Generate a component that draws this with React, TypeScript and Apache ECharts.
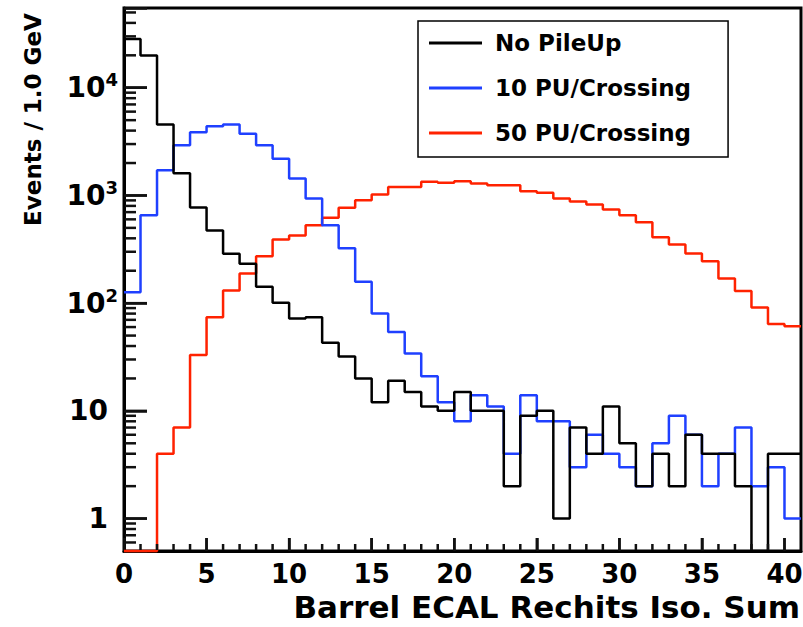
import React, { useEffect, useRef } from "react";
import * as echarts from "echarts";

// Bin lower edges 0..40 (1 GeV bins), upper edge of the last bin
const BIN_START = [0,1,2,3,4,5,6,7,8,9,10,11,12,13,14,15,16,17,18,19,20,21,22,23,24,25,26,27,28,29,30,31,32,33,34,35,36,37,38,39,40];
const LAST_EDGE = 41;

const NO_PILEUP = [28400,19900,4550,1610,772,472,287,232,142,101,72,74,43,32,20,12,19,15,11,10,15,10,10,2,9,10,1,7,4,11,5,2,4,2,6,4,4,2,0,4,4];
const PU10 = [126,655,1710,2920,3860,4390,4550,3730,2920,2190,1440,936,530,324,158,80,54,34,21,12,8,14,11,4,14,8,8,3,6,4,3,2,5,9,6,2,4,7,2,3,1];
const PU50 = [0,0,4,7,33,74,131,189,273,390,425,530,620,770,903,1020,1200,1200,1340,1310,1355,1290,1245,1245,1094,1057,938,878,824,740,655,564,409,351,289,245,169,130,91,64,61];

const SERIES_NAMES = ["No PileUp", "10 PU/Crossing", "50 PU/Crossing"];
const X_TITLE = "Barrel ECAL Rechits Iso. Sum";
const Y_TITLE = "Events / 1.0 GeV";

const X_MIN = 0;
const X_MAX = 41;
const X_INTERVAL = 5;
const Y_MIN = 0.5;
const Y_MAX = 55000;

const X_MAJOR_TICKS = [5,10,15,20,25,30,35,40];
const X_MINOR_TICKS = [1,2,3,4,6,7,8,9,11,12,13,14,16,17,18,19,21,22,23,24,26,27,28,29,31,32,33,34,36,37,38,39];
const Y_MAJOR_TICKS = [1,10,100,1000,10000];
const Y_MINOR_TICKS = [0.6,0.7,0.8,0.9,2,3,4,5,6,7,8,9,20,30,40,50,60,70,80,90,200,300,400,500,600,700,800,900,2000,3000,4000,5000,6000,7000,8000,9000,20000,30000,40000,50000];

const FONT = "DejaVu Sans";

function stepData(values: number[]) {
  const pts: number[][] = BIN_START.map((x, i) => [x, values[i] > 0 ? values[i] : Y_MIN]);
  const lastV = values[values.length - 1];
  pts.push([LAST_EDGE, lastV > 0 ? lastV : Y_MIN]);
  return pts;
}

function lineSeries(name: string, color: string, values: number[], z: number) {
  return {
    name,
    type: "line",
    step: "end",
    symbol: "none",
    showSymbol: false,
    clip: false,
    color,
    lineStyle: { color, width: 2.5 },
    data: stepData(values),
    z,
  };
}

export default function App() {
  const ref = useRef<HTMLDivElement>(null);
  useEffect(() => {
    if (!ref.current) return;
    const chart = echarts.init(ref.current, null, { renderer: "svg" });
    const option: any = {
      animation: false,
      backgroundColor: "#fff",
      title: {
        text: X_TITLE,
        right: 3,
        top: 590,
        padding: 0,
        textStyle: {
          fontFamily: FONT,
          fontWeight: "bold",
          fontSize: 31,
          color: "#000",
          lineHeight: 34,
        },
      },
      grid: {
        left: 124,
        top: 8,
        right: 2,
        bottom: 76,
        show: true,
        borderColor: "#000",
        borderWidth: 3,
        backgroundColor: "transparent",
        outerBoundsMode: "none",
      },
      xAxis: {
        type: "value",
        min: X_MIN,
        max: X_MAX,
        interval: X_INTERVAL,
        axisLine: { show: true, onZero: false, lineStyle: { color: "#000", width: 3 } },
        axisTick: { show: true, inside: true, length: 13, lineStyle: { color: "#111", width: 2.5 } },
        splitLine: { show: false },
        axisLabel: {
          show: true,
          interval: 0,
          showMaxLabel: false,
          margin: 10,
          color: "#000",
          fontFamily: FONT,
          fontWeight: "bold",
          fontSize: 26,
        },
      },
      yAxis: {
        type: "log",
        logBase: 10,
        min: Y_MIN,
        max: Y_MAX,
        name: Y_TITLE,
        nameLocation: "middle",
        nameGap: 78,
        nameTextStyle: {
          fontFamily: FONT,
          fontWeight: "bold",
          fontSize: 23,
          color: "#000",
          lineHeight: 26,
          padding: [0, 0, 0, 320],
        },
        axisLine: { show: true, onZero: false, lineStyle: { color: "#000", width: 3 } },
        axisTick: { show: true, inside: true, length: 23, lineStyle: { color: "#111", width: 2.5 } },
        splitLine: { show: false },
        axisLabel: {
          show: true,
          margin: 6,
          color: "#000",
          formatter: (v: number) => {
            const l = Math.log10(v);
            const e = Math.round(l);
            if (Math.abs(l - e) > 1e-6 || e < 0) return "";
            if (e === 0) return "{p|1}";
            if (e === 1) return "{p|10}";
            return "{b|10}{s|" + e + "}";
          },
          rich: {
            p: { fontFamily: FONT, fontWeight: "bold", fontSize: 28, color: "#000", padding: [0, 10, 0, 0], lineHeight: 34 },
            b: { fontFamily: FONT, fontWeight: "bold", fontSize: 28, color: "#000", lineHeight: 34 },
            s: { fontFamily: FONT, fontWeight: "bold", fontSize: 18, color: "#000", lineHeight: 22, verticalAlign: "top" },
          },
        },
      },
      legend: {
        show: true,
        orient: "vertical",
        left: 418,
        top: 21,
        data: SERIES_NAMES,
        icon: "rect",
        itemWidth: 53,
        itemHeight: 3,
        itemGap: 17,
        padding: [8, 37, 10, 11],
        backgroundColor: "#fff",
        borderColor: "#000",
        borderWidth: 1.5,
        selectedMode: false,
        textStyle: {
          fontFamily: FONT,
          fontWeight: "bold",
          fontSize: 23,
          color: "#000",
          lineHeight: 28,
          padding: [0, 0, 0, 8],
        },
      },
      series: [
        lineSeries(SERIES_NAMES[2], "#ff2200", PU50, 3),
        lineSeries(SERIES_NAMES[1], "#1f40ff", PU10, 4),
        lineSeries(SERIES_NAMES[0], "#000000", NO_PILEUP, 5),
      ],
    };
    chart.setOption(option);

    // Tick marks placed through the chart's own axis scales
    const els: any[] = [];
    const addX = (v: number, len: number) => {
      const p = chart.convertToPixel({ gridIndex: 0 }, [v, Y_MIN]) as number[];
      if (!p || isNaN(p[0])) return;
      els.push({ type: "line", z: 10, shape: { x1: p[0], y1: p[1] - 1, x2: p[0], y2: p[1] - len }, style: { stroke: "#111", lineWidth: 2.5 } });
    };
    const addY = (v: number, len: number) => {
      const p = chart.convertToPixel({ gridIndex: 0 }, [X_MIN, v]) as number[];
      if (!p || isNaN(p[1])) return;
      els.push({ type: "line", z: 10, shape: { x1: p[0] + 1, y1: p[1], x2: p[0] + len, y2: p[1] }, style: { stroke: "#111", lineWidth: 2.5 } });
    };
    X_MAJOR_TICKS.forEach((v) => addX(v, 13));
    X_MINOR_TICKS.forEach((v) => addX(v, 7));
    Y_MAJOR_TICKS.forEach((v) => addY(v, 23));
    Y_MINOR_TICKS.forEach((v) => addY(v, 12));
    chart.setOption({ graphic: els });

    return () => chart.dispose();
  }, []);
  return (
    <div
      ref={ref}
      style={{ position: "absolute", left: 0, top: 0, width: 803, height: 627, background: "#fff" }}
    />
  );
}
